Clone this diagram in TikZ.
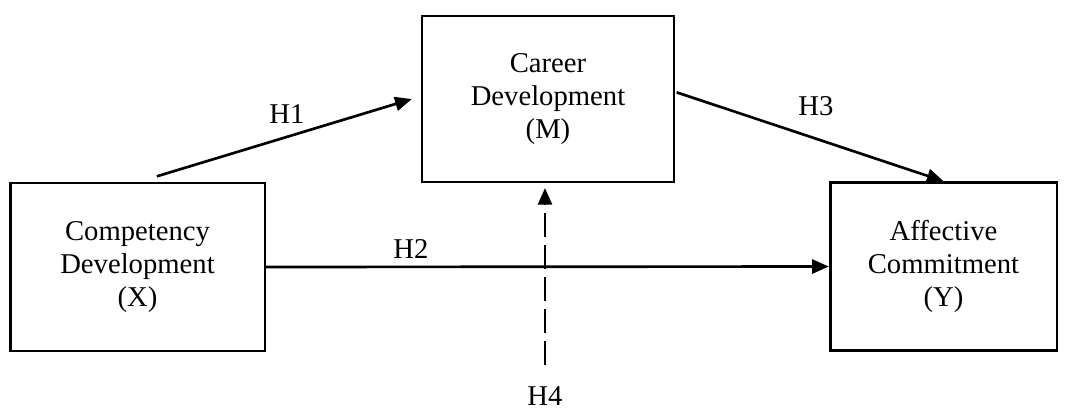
\documentclass[tikz,border=0pt]{standalone}
\usepackage{fontspec}
\setmainfont{Liberation Serif}
\usetikzlibrary{positioning, calc, arrows.meta}

\begin{document}
\begin{tikzpicture}[
		x=0.75pt, y=-0.75pt,
		font=\fontsize{21.5}{24.5}\selectfont,
		var/.style={draw, rectangle, line width=2pt, align=center, inner sep=0pt},
		arr/.style={-{Triangle[length=12.5pt, width=10.5pt]}, line width=2pt},
		hyp/.style={inner sep=1pt},
	]
	\useasboundingbox (0,0) rectangle (1067,411);
	% boxes
	\node[var, minimum width=191pt, minimum height=126pt] (comp) at (137.5,267) {Competency\\Development\\(X)};
	\node[var, minimum width=189pt, minimum height=124.5pt] (career) at (548,99) {Career\\Development\\(M)};
	\node[var, minimum width=170pt, minimum height=126pt] (affect) at (943.5,266.5) {Affective\\Commitment\\(Y)};
	% labels
	\node[hyp] (h1) at (287,114) {H1};
	\node[hyp] (h2) at (411,249) {H2};
	\node[hyp] (h3) at (816,106) {H3};
	\node[hyp] (h4) at (545,396) {H4};
	% paths
	\draw[arr, shorten >=7pt] ([xshift=14.5pt, yshift=4pt]comp.north) -- ([yshift=2pt]career.west);
	\draw[arr] ([xshift=1pt, yshift=5pt]career.east) -- (affect.north);
	\draw[arr] (comp.east) -- (affect.west);
	\draw[arr, dash pattern=on 18pt off 6pt, shorten <=15pt, shorten >=3.5pt]
		(h4.north) -- (h4.north |- career.south);
\end{tikzpicture}
\end{document}
